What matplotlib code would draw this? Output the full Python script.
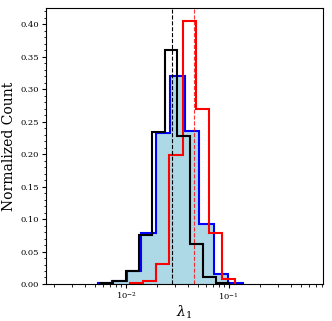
import numpy as np
import matplotlib
matplotlib.use('Agg')
import matplotlib.pyplot as plt

plt.rcParams['font.family'] = 'DejaVu Serif'
plt.rcParams['mathtext.fontset'] = 'dejavuserif'

# normalized histograms of lambda_1 (bin edges + heights)
black_edges = [0.00562, 0.0075, 0.01, 0.01334, 0.01778, 0.02371, 0.03162, 0.04217, 0.05623, 0.07499, 0.1]
black_counts = [0.0015, 0.0042, 0.0196, 0.076, 0.2335, 0.36, 0.228, 0.0617, 0.0114, 0.002]

blue_edges = [0.00531, 0.00736, 0.01019, 0.01409, 0.0195, 0.02698, 0.03733, 0.05164, 0.07145, 0.09886, 0.1368]
blue_counts = [0.001, 0.005, 0.0196, 0.078, 0.233, 0.32, 0.2355, 0.092, 0.015, 0.002]

red_edges = [0.01086, 0.01462, 0.01963, 0.02642, 0.03548, 0.04775, 0.06412, 0.0863, 0.1159]
red_counts = [0.0015, 0.005, 0.031, 0.199, 0.405, 0.27, 0.078, 0.008]

black_median = 0.0282
red_median = 0.0462

fig = plt.figure(figsize=(3.32, 3.21), dpi=100)
ax = fig.add_axes([0.1386, 0.1153, 0.8344, 0.8597])

ax.stairs(blue_counts, blue_edges, fill=True, color='lightblue')
ax.stairs(blue_counts, blue_edges, color='blue', lw=1.5)
ax.stairs(red_counts, red_edges, color='red', lw=1.5)
ax.stairs(black_counts, black_edges, color='black', lw=1.5)

ax.axvline(black_median, color='black', ls='--', lw=0.8)
ax.axvline(red_median, color='red', ls='--', lw=0.8, alpha=0.8)

ax.set_xscale('log')
ax.set_xlim(0.001663, 0.828)
ax.set_ylim(0, 0.425)
ax.set_yticks(np.arange(0, 0.41, 0.05))
ax.set_yticks(np.arange(0, 0.425, 0.01), minor=True)
ax.tick_params(labelsize=6, length=3, pad=2)
ax.tick_params(which='minor', length=1.8)

ax.set_ylabel('Normalized Count', fontsize=10, labelpad=3)
ax.set_xlabel(r'$\lambda_1$', fontsize=10, labelpad=1)

fig.savefig('out.png', dpi=100)
